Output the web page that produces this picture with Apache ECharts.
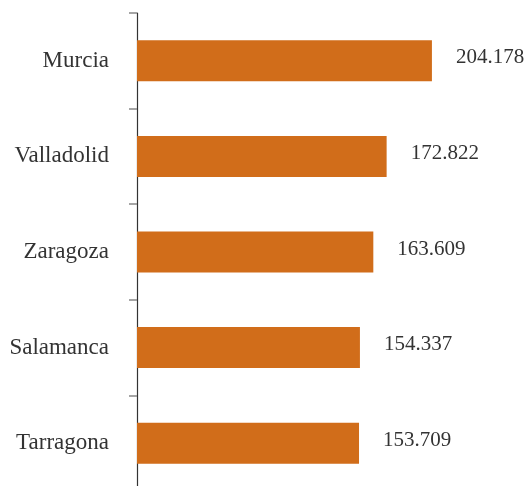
<!DOCTYPE html>
<html>
<head>
<meta charset="utf-8">
<script src="https://cdn.jsdelivr.net/npm/echarts@6/dist/echarts.min.js"></script>
<style>
  html, body { margin: 0; padding: 0; background: #fff; }
  #chart { width: 527px; height: 486px; }
</style>
</head>
<body>
<div id="chart"></div>
<script>
var cities = ['Murcia', 'Valladolid', 'Zaragoza', 'Salamanca', 'Tarragona'];
var values = [204178, 172822, 163609, 154337, 153709];

function fmt(v) {
    return String(v).replace(/\B(?=(\d{3})+(?!\d))/g, '.');
}

var option = {
    animation: false,
    grid: {
        left: 137,
        right: 0,
        top: 13,
        height: 478,
        containLabel: false,
        outerBoundsMode: 'none'
    },
    xAxis: {
        type: 'value',
        min: 0,
        max: 270000,
        show: false
    },
    yAxis: {
        type: 'category',
        data: cities,
        inverse: true,
        axisLine: { show: true, lineStyle: { color: '#333', width: 1.2 } },
        axisTick: { show: true, length: 8, lineStyle: { color: '#888', width: 1.5 } },
        axisLabel: {
            margin: 28,
            color: '#333',
            fontFamily: 'Liberation Serif',
            fontSize: 23,
            padding: [5, 0, 0, 0]
        }
    },
    series: [
        {
            type: 'bar',
            data: values,
            barWidth: 41,
            itemStyle: { color: '#D16D1A' },
            label: {
                show: true,
                position: 'right',
                distance: 24,
                offset: [0, -3],
                color: '#333',
                fontFamily: 'Liberation Serif',
                fontSize: 21,
                formatter: function (p) { return fmt(p.value); }
            }
        }
    ]
};

var myChart = echarts.init(document.getElementById('chart'));
myChart.setOption(option);
</script>
</body>
</html>
